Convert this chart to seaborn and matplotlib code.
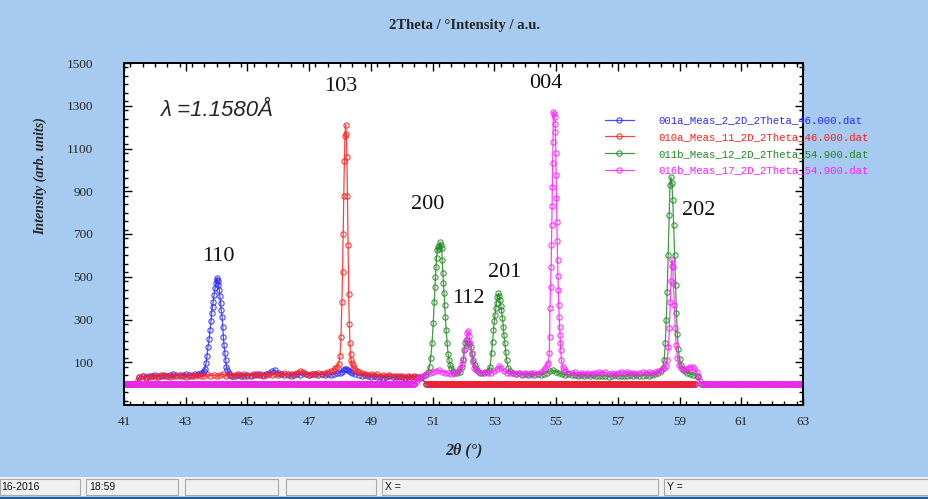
import numpy as np
import pandas as pd
import matplotlib
matplotlib.use("Agg")
import matplotlib.pyplot as plt
import seaborn as sns
from matplotlib.patches import Rectangle
from matplotlib.ticker import MultipleLocator, FixedLocator

# ---------------- data ----------------
file_names = ["001a_Meas_2_2D_2Theta_46.000.dat",
              "010a_Meas_11_2D_2Theta_46.000.dat",
              "011b_Meas_12_2D_2Theta_54.900.dat",
              "016b_Meas_17_2D_2Theta_54.900.dat"]
colors = ["#2b2bff", "#ff1f1f", "#1f8a1f", "#ff1fff"]

blue_x = [41.5, 41.6, 41.7, 41.8, 41.9, 42.0, 42.1, 42.2, 42.3, 42.4, 42.5, 42.6, 42.7, 42.8, 42.9,
          43.0, 43.1, 43.2, 43.3, 43.4, 43.5, 43.55, 43.59, 43.62, 43.66, 43.69, 43.72, 43.76, 43.79,
          43.82, 43.84, 43.87, 43.89, 43.92, 43.95, 43.98, 44.0, 44.02, 44.04, 44.06, 44.09, 44.11,
          44.13, 44.15, 44.18, 44.2, 44.22, 44.24, 44.27, 44.3, 44.32, 44.35, 44.39, 44.45, 44.5,
          44.6, 44.7, 44.8, 44.9, 45.0, 45.1, 45.2, 45.3, 45.4, 45.5, 45.6, 45.7, 45.8, 45.9, 46.0,
          46.1, 46.2, 46.3, 46.4, 46.5, 46.6, 46.7, 46.8, 46.9, 47.0, 47.1, 47.2, 47.3, 47.4, 47.5,
          47.6, 47.7, 47.8, 47.9, 48.0, 48.05, 48.1, 48.15, 48.2, 48.25, 48.3, 48.35, 48.4, 48.5,
          48.6, 48.7, 48.8, 48.9, 49.0, 49.1, 49.2, 49.3, 49.4, 49.5, 49.6, 49.7, 49.8, 49.9, 50.0,
          50.1, 50.2, 50.3, 50.4, 50.5, 50.6]
blue_y = [32, 36, 30, 38, 34, 40, 33, 37, 42, 35, 39, 44, 36, 41, 38,
          45, 40, 38, 43, 47, 48, 50, 58, 70, 96, 130, 171, 210, 251,
          295, 330, 360, 383, 415, 447, 470, 485, 494, 480, 462, 438, 408,
          377, 345, 312, 265, 218, 180, 143, 110, 78, 62, 50, 42, 38,
          36, 40, 35, 38, 42, 37, 40, 44, 39, 42, 46, 50, 58, 62, 52,
          45, 40, 43, 38, 41, 45, 42, 48, 44, 40, 43, 47, 42, 45, 40,
          44, 42, 46, 48, 52, 56, 62, 68, 70, 66, 60, 55, 50, 45,
          40, 38, 42, 36, 32, 35, 30, 33, 28, 31, 34, 29, 32, 30, 33,
          28, 31, 29, 32, 30, 28]

red_x = [41.45, 41.5, 41.6, 41.7, 41.8, 41.9, 42.0, 42.1, 42.2, 42.3, 42.4, 42.5, 42.6, 42.7, 42.8,
         42.9, 43.0, 43.1, 43.2, 43.3, 43.4, 43.5, 43.6, 43.7, 43.8, 43.9, 44.0, 44.1, 44.2, 44.3,
         44.4, 44.5, 44.6, 44.7, 44.8, 44.9, 45.0, 45.1, 45.2, 45.3, 45.4, 45.5, 45.6, 45.7, 45.8,
         45.9, 46.0, 46.1, 46.2, 46.3, 46.4, 46.5, 46.6, 46.7, 46.8, 46.9, 47.0, 47.1, 47.2, 47.3,
         47.4, 47.5, 47.6, 47.7, 47.8, 47.85, 47.9, 47.95, 48.0, 48.03, 48.06, 48.08, 48.1, 48.12,
         48.14, 48.16, 48.18, 48.2, 48.22, 48.24, 48.26, 48.28, 48.3, 48.32, 48.34, 48.36, 48.38,
         48.41, 48.45, 48.5, 48.55, 48.6, 48.7, 48.8, 48.9, 49.0, 49.1, 49.2, 49.3, 49.4, 49.5,
         49.6, 49.7, 49.8, 49.9, 50.0, 50.1, 50.2, 50.3, 50.4, 50.5, 50.6]
red_y = [18, 30, 35, 28, 33, 38, 31, 36, 40, 34, 38, 32, 37, 41, 35,
         39, 33, 38, 42, 36, 40, 34, 38, 43, 37, 41, 35, 39, 44, 38,
         42, 36, 40, 45, 39, 43, 37, 41, 46, 40, 44, 38, 42, 47, 41,
         45, 39, 43, 48, 42, 46, 44, 52, 60, 55, 45, 42, 47, 44, 49,
         46, 52, 55, 60, 66, 72, 78, 90, 130, 220, 380, 520, 700, 880,
         1040, 1160, 1212, 1170, 1060, 880, 650, 420, 280, 190, 140, 110, 95,
         85, 72, 65, 60, 55, 50, 46, 42, 45, 40, 43, 38, 41, 36,
         40, 35, 38, 34, 37, 33, 36, 32, 35, 31, 30]

green_x = [50.6, 50.7, 50.8, 50.85, 50.9, 50.94, 50.98, 51.02, 51.05, 51.07, 51.09, 51.11, 51.13,
           51.15, 51.17, 51.19, 51.21, 51.24, 51.27, 51.29, 51.31, 51.33, 51.35, 51.37, 51.39,
           51.41, 51.44, 51.47, 51.5, 51.53, 51.57, 51.61, 51.65, 51.7, 51.8, 51.9, 51.95, 51.99,
           52.02, 52.06, 52.1, 52.14, 52.19, 52.24, 52.28, 52.32, 52.36, 52.41, 52.47, 52.55, 52.65,
           52.75, 52.82, 52.86, 52.91, 52.94, 52.97, 53.0, 53.02, 53.05, 53.07, 53.1, 53.13, 53.16,
           53.18, 53.21, 53.23, 53.26, 53.29, 53.31, 53.34, 53.37, 53.4, 53.45, 53.5, 53.6, 53.7,
           53.8, 53.9, 54.0, 54.1, 54.2, 54.3, 54.4, 54.5, 54.6, 54.7, 54.8, 54.9, 55.0, 55.1, 55.2,
           55.3, 55.4, 55.5, 55.6, 55.7, 55.8, 55.9, 56.0, 56.1, 56.2, 56.3, 56.4, 56.5, 56.6, 56.7,
           56.8, 56.9, 57.0, 57.1, 57.2, 57.3, 57.4, 57.5, 57.6, 57.7, 57.8, 57.9, 58.0, 58.1, 58.2,
           58.3, 58.4, 58.45, 58.5, 58.54, 58.57, 58.6, 58.63, 58.66, 58.69, 58.72, 58.75, 58.78,
           58.81, 58.84, 58.87, 58.9, 58.93, 58.96, 59.0, 59.05, 59.1, 59.17, 59.25, 59.35, 59.45,
           59.55, 59.6]
green_y = [30, 36, 42, 55, 80, 120, 190, 282, 380, 453, 500, 547, 590,
           625, 640, 630, 645, 662, 650, 633, 578, 516, 470, 423, 370,
           313, 250, 189, 140, 111, 85, 72, 60, 52, 48, 55, 80, 111,
           157, 190, 204, 195, 185, 173, 140, 111, 88, 73, 60, 52, 50,
           55, 65, 79, 142, 195, 251, 295, 321, 355, 376, 405, 423, 410,
           391, 365, 344, 305, 266, 228, 189, 150, 111, 72, 58, 50, 45,
           48, 42, 46, 40, 44, 41, 45, 42, 47, 52, 58, 62, 56, 48, 44,
           40, 43, 39, 42, 38, 41, 37, 40, 36, 39, 35, 38, 34, 37, 33,
           36, 40, 35, 38, 34, 37, 40, 36, 39, 35, 38, 42, 37, 40, 44,
           50, 60, 75, 110, 190, 300, 430, 600, 790, 930, 967, 940, 860,
           740, 600, 460, 330, 230, 160, 115, 85, 70, 58, 50, 46, 42,
           38, 30]

magenta_x = [50.45, 50.5, 50.55, 50.6, 50.7, 50.8, 50.9, 51.0, 51.1, 51.2, 51.3, 51.4, 51.5, 51.6,
             51.7, 51.8, 51.85, 51.9, 51.95, 52.0, 52.04, 52.08, 52.12, 52.16, 52.19, 52.22, 52.26,
             52.3, 52.35, 52.4, 52.5, 52.6, 52.7, 52.8, 52.9, 53.0, 53.1, 53.16, 53.22, 53.3, 53.4,
             53.5, 53.6, 53.7, 53.8, 53.9, 54.0, 54.1, 54.2, 54.3, 54.4, 54.5, 54.6, 54.65, 54.7,
             54.75, 54.78, 54.79, 54.8, 54.82, 54.84, 54.85, 54.86, 54.87, 54.88, 54.89, 54.9, 54.91,
             54.94, 54.96, 54.97, 54.98, 54.99, 55.0, 55.01, 55.02, 55.035, 55.05, 55.06, 55.07,
             55.085, 55.1, 55.115, 55.13, 55.14, 55.15, 55.17, 55.21, 55.26, 55.3, 55.4, 55.5, 55.6,
             55.7, 55.8, 55.9, 56.0, 56.1, 56.2, 56.3, 56.4, 56.5, 56.6, 56.7, 56.8, 56.9, 57.0, 57.1,
             57.2, 57.3, 57.4, 57.5, 57.6, 57.7, 57.8, 57.9, 58.0, 58.1, 58.2, 58.3, 58.4, 58.5,
             58.55, 58.6, 58.64, 58.67, 58.7, 58.72, 58.74, 58.76, 58.78, 58.8, 58.83, 58.86, 58.89,
             58.93, 58.98, 59.05, 59.12, 59.2, 59.28, 59.35, 59.42, 59.48, 59.55, 59.6, 59.65]
magenta_y = [8, 15, 25, 32, 38, 45, 50, 55, 58, 62, 56, 52, 48, 45,
             50, 55, 62, 72, 90, 115, 160, 205, 235, 245, 225, 190, 142,
             100, 75, 62, 55, 50, 54, 48, 52, 58, 70, 84, 75, 60, 52,
             48, 52, 46, 50, 45, 49, 44, 48, 52, 47, 55, 62, 75, 85,
             95, 142, 220, 352, 450, 547, 650, 742, 830, 921, 1030, 1132, 1272,
             1262, 1249, 1215, 1179, 1080, 976, 870, 758, 665, 578, 505, 438,
             370, 313, 265, 227, 190, 157, 111, 79, 68, 60, 52, 48, 53,
             47, 51, 45, 50, 46, 52, 48, 54, 49, 53, 47, 51, 46, 50, 55,
             49, 53, 48, 52, 47, 51, 55, 50, 54, 49, 53, 58, 64, 72,
             82, 110, 170, 260, 380, 480, 550, 578, 545, 470, 370, 260, 180,
             120, 88, 72, 66, 68, 75, 80, 78, 70, 55, 35, 10]

# ranges outside each measurement where the files hold zero intensity
zero_ranges = {
    file_names[0]: [(41.0, 41.4), (50.8, 59.5)],
    file_names[1]: [(41.0, 41.4), (50.8, 59.5)],
    file_names[2]: [(41.0, 50.4), (59.7, 63.0)],
    file_names[3]: [(41.0, 50.4), (59.7, 63.0)],
}
measured = {file_names[0]: (blue_x, blue_y), file_names[1]: (red_x, red_y),
            file_names[2]: (green_x, green_y), file_names[3]: (magenta_x, magenta_y)}

peak_labels = ["110", "103", "200", "112", "201", "004", "202"]
peak_label_x = [44.05, 48.03, 50.85, 52.15, 53.35, 54.67, 59.63]
peak_label_y = [597, 1392, 840, 400, 522, 1406, 808]

x_ticks = [41, 43, 45, 47, 49, 51, 53, 55, 57, 59, 61, 63]
y_ticks = [100, 300, 500, 700, 900, 1100, 1300, 1500]

# ---------------- build tidy table ----------------
frames = []
for name in file_names:
    mx, my = measured[name]
    xs, ys = [], []
    for (a, b) in zero_ranges[name]:
        zx = list(np.round(np.arange(a, b + 1e-9, 0.05), 3))
        xs.append(zx)
        ys.append([0.0] * len(zx))
    xs.append(list(mx))
    ys.append(list(my))
    x_all = np.concatenate(xs)
    y_all = np.concatenate(ys)
    order = np.argsort(x_all, kind="stable")
    frames.append(pd.DataFrame({"x": x_all[order], "y": y_all[order], "file": name}))
df = pd.concat(frames, ignore_index=True)

# ---------------- figure ----------------
sns.set_style("ticks")
plt.rcParams["font.family"] = ["Liberation Serif", "DejaVu Serif"]

W, H = 929, 499
fig = plt.figure(figsize=(W / 100, H / 100), dpi=100, facecolor="#A6CAF0")
ax = fig.add_axes([124 / W, (H - 405) / H, 679 / W, 342 / H])
ax.set_facecolor("white")

for name, col in zip(file_names, colors):
    sub = df[df["file"] == name]
    sns.lineplot(data=sub, x="x", y="y", ax=ax, color=col, sort=False, estimator=None,
                 marker="o", markersize=3.8, markerfacecolor="none",
                 markeredgecolor=col, markeredgewidth=0.8, linewidth=0.9,
                 alpha=0.85, label=name)

ax.set_xlim(41, 63)
ax.set_ylim(-100, 1500)
ax.xaxis.set_major_locator(FixedLocator(x_ticks))
ax.xaxis.set_minor_locator(MultipleLocator(0.4))
ax.yaxis.set_major_locator(FixedLocator(y_ticks))
ax.yaxis.set_minor_locator(MultipleLocator(40))
ax.tick_params(which="both", direction="in", top=True, right=True, width=1.0, color="black")
ax.tick_params(which="major", length=6)
ax.tick_params(which="minor", length=3)
ax.tick_params(axis="y", which="major", pad=22, labelsize=9.5)
ax.tick_params(axis="x", which="major", pad=8, labelsize=9.5)
for lab in ax.get_xticklabels() + ax.get_yticklabels():
    lab.set_fontfamily("Liberation Serif")
for s in ax.spines.values():
    s.set_linewidth(1.4)
    s.set_color("black")

ax.set_xlabel("2θ (°)", fontsize=11.5, fontweight="bold", fontstyle="italic")
ax.xaxis.set_label_coords(0.5, -0.108)
ax.set_ylabel("Intensity (arb. units)", fontsize=10, fontweight="bold", fontstyle="italic")
ax.yaxis.label.set_va("center")
ax.yaxis.set_label_coords(-0.1236, 0.67)

fig.suptitle("2Theta / °Intensity / a.u.", x=465 / W, y=(H - 25) / H, va="center",
             fontsize=10.5, fontweight="bold", family="Liberation Serif")

ax.text(0.053, 0.862, "λ =1.1580Å", transform=ax.transAxes, fontsize=16,
        fontstyle="italic", family=["Liberation Sans", "DejaVu Sans"], va="center", ha="left")

for lab, lx, ly in zip(peak_labels, peak_label_x, peak_label_y):
    ax.text(lx, ly, lab, ha="center", va="center", fontsize=16, family="Liberation Serif",
            color="#111111")

leg = ax.legend(loc="upper left", bbox_to_anchor=(0.7006, 0.862), frameon=False,
                borderpad=0, handlelength=2.7, handletextpad=2.3, labelspacing=0.62,
                prop={"family": ["Liberation Mono", "DejaVu Sans Mono"], "size": 7.7},
                labelcolor="linecolor")
for h in leg.legend_handles:
    h.set_alpha(0.85)

# ---------------- status bar ----------------
fig.patches.append(Rectangle((0, 3 / H), 1, 19 / H, transform=fig.transFigure,
                             facecolor="#F0F0F0", edgecolor="none", zorder=0))
fig.patches.append(Rectangle((0, 0), 1, 2.5 / H, transform=fig.transFigure,
                             facecolor="#1E5C99", edgecolor="none", zorder=0))
panels = [(0, 80), (86, 178), (185, 278), (286, 376), (382, 658), (664, 929)]
for (a, b) in panels:
    fig.patches.append(Rectangle((a / W, 4.5 / H), (b - a) / W, 16 / H, transform=fig.transFigure,
                                 facecolor="#F0F0F0", edgecolor="#A8A8A8", linewidth=0.8,
                                 zorder=1))
status_texts = ["16-2016", "18:59", "X =", "Y ="]
status_x = [1, 89, 385, 667]
for t, sx in zip(status_texts, status_x):
    fig.text(sx / W, 12.5 / H, t, fontsize=7.5, va="center", ha="left",
             family=["Liberation Sans Narrow", "Liberation Sans"], color="#111111")

fig.savefig("out.png", dpi=100, facecolor=fig.get_facecolor())
